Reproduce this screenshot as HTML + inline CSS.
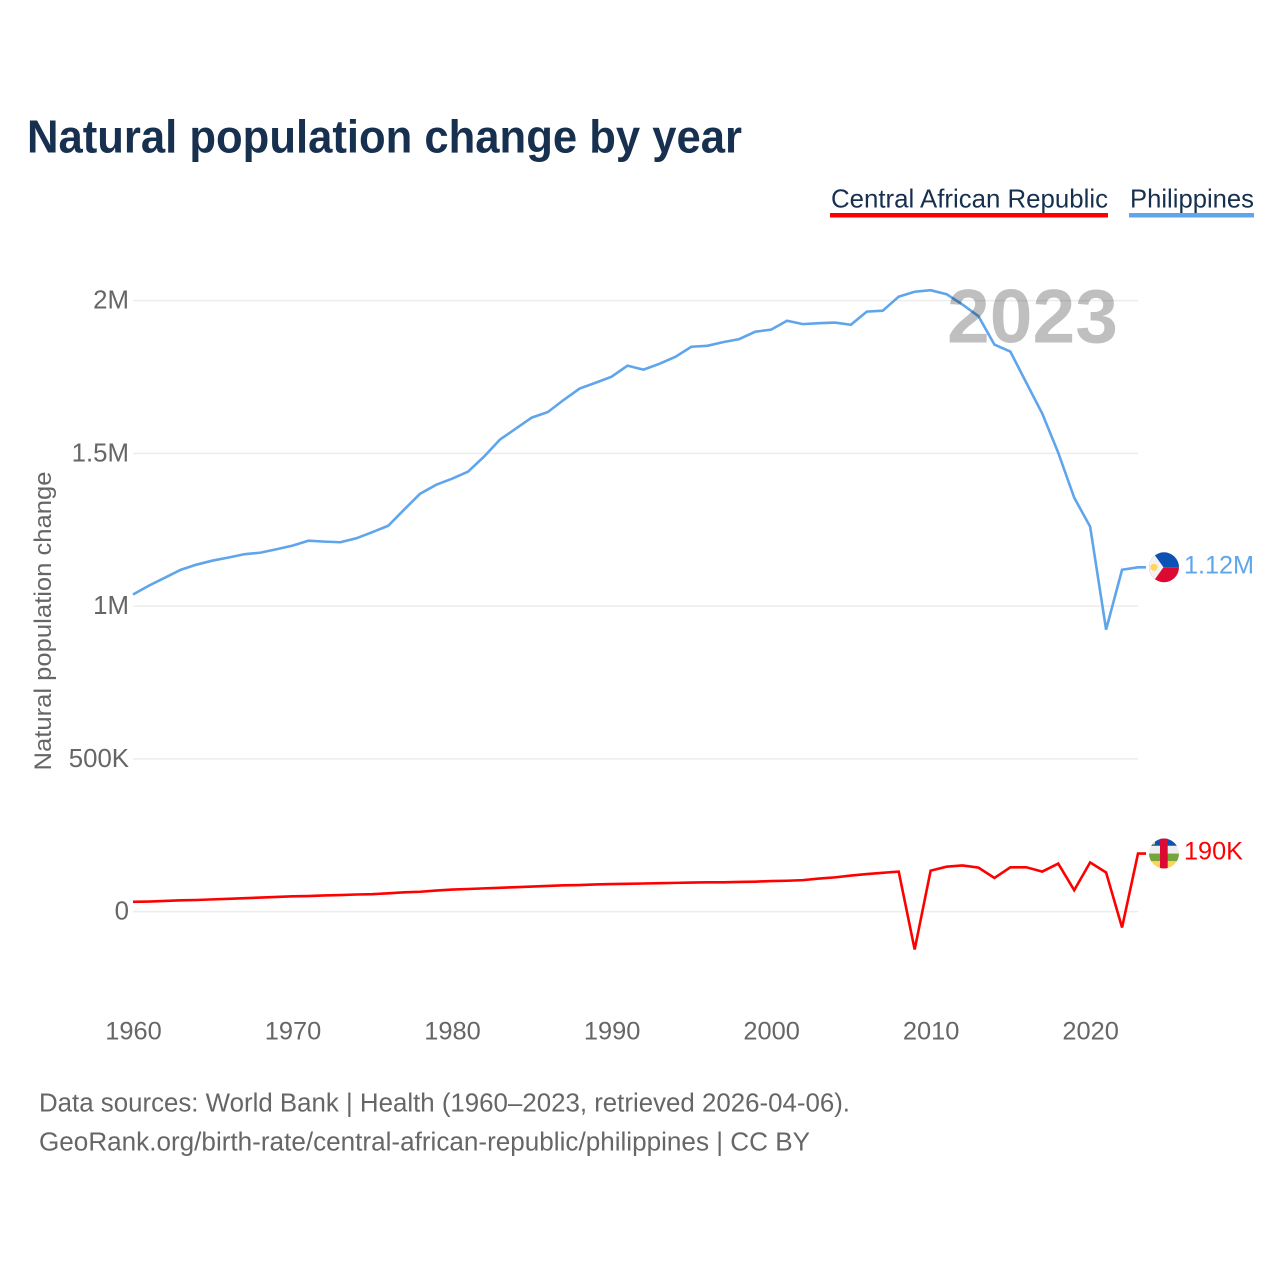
<!DOCTYPE html>
<html lang="en">
<head>
<meta charset="utf-8">
<title>Natural population change by year</title>
<style>
html,body{margin:0;padding:0;background:#fff;width:1280px;height:1280px;overflow:hidden}
svg{display:block}
text{font-family:"Liberation Sans",sans-serif}
</style>
</head>
<body>
<svg id="chart" xmlns="http://www.w3.org/2000/svg" width="1280" height="1280" viewBox="0 0 1280 1280">
  <defs>
    <clipPath id="flag-clip"><circle cx="0" cy="0" r="15"></circle></clipPath>
  </defs>
  <text x="27" y="152.5" font-size="46" font-weight="700" fill="#17304f" textLength="715" lengthAdjust="spacingAndGlyphs">Natural population change by year</text>

  <g>
    <text x="831" y="207.5" font-size="26" fill="#17304f" textLength="277" lengthAdjust="spacingAndGlyphs">Central African Republic</text>
    <rect x="830" y="213" width="278" height="4.5" fill="#ff0000"></rect>
  </g>
  <g>
    <text x="1130" y="207.5" font-size="26" fill="#17304f" textLength="124" lengthAdjust="spacingAndGlyphs">Philippines</text>
    <rect x="1129" y="213" width="125" height="4.5" fill="#5fa5ec"></rect>
  </g>

  <text transform="translate(51 621) rotate(-90)" text-anchor="middle" font-size="24.5" fill="#666" textLength="299" lengthAdjust="spacingAndGlyphs">Natural population change</text>

  <g id="grid"></g>
  <g id="y-ticks"></g>
  <g id="x-ticks"></g>
  <g id="series"></g>

  <text id="year-label" x="1118" y="342.5" text-anchor="end" font-size="76" font-weight="700" fill="#000" fill-opacity="0.25" textLength="171" lengthAdjust="spacingAndGlyphs">2023</text>

  <g id="flag-ph">
    <g clip-path="url(#flag-clip)">
      <rect x="-15" y="-16" width="30" height="16" fill="#0b52b4"></rect>
      <rect x="-15" y="0" width="30" height="16" fill="#dc0a32"></rect>
      <polygon points="-15,-16 -12,-16 -0.5,0 -12,16 -15,16" fill="#f2f2f2"></polygon>
      <circle cx="-10" cy="0" r="3.6" fill="#ffd45e"></circle>
    </g>
  </g>
  <g id="flag-car">
    <g clip-path="url(#flag-clip)">
      <rect x="-15" y="-16" width="30" height="8.3" fill="#0b52b4"></rect>
      <rect x="-15" y="-7.7" width="30" height="7.7" fill="#eeeeee"></rect>
      <rect x="-15" y="0" width="30" height="7.7" fill="#74a53c"></rect>
      <rect x="-15" y="7.7" width="30" height="8.3" fill="#ffd45e"></rect>
      <rect x="-4" y="-16" width="7.7" height="32" fill="#dc0a32"></rect>
      <circle cx="-10.5" cy="-10.5" r="1.6" fill="#ffd45e"></circle>
    </g>
  </g>
  <text id="value-ph" font-size="25" fill="#5fa5ec" textLength="70" lengthAdjust="spacingAndGlyphs">1.12M</text>
  <text id="value-car" font-size="25" fill="#ff0000" textLength="59" lengthAdjust="spacingAndGlyphs">190K</text>

  <text x="39" y="1111.5" font-size="25.5" fill="#666" textLength="811" lengthAdjust="spacingAndGlyphs">Data sources: World Bank | Health (1960–2023, retrieved 2026-04-06).</text>
  <text x="39" y="1150.5" font-size="25.5" fill="#666" textLength="771" lengthAdjust="spacingAndGlyphs">GeoRank.org/birth-rate/central-african-republic/philippines | CC BY</text>
</svg>
<script>
const firstYear = 1960;
const lastYear = 2023;
const xTickYears = [1960, 1970, 1980, 1990, 2000, 2010, 2020];
const yTickValues = [0, 500, 1000, 1500, 2000];
const yTickLabels = ['0', '500K', '1M', '1.5M', '2M'];
const philippines = [1038, 1067, 1093, 1119, 1136, 1149, 1159, 1170, 1175, 1186, 1198, 1214, 1211, 1209, 1222, 1242, 1263, 1316, 1368, 1397, 1417, 1440, 1489, 1545, 1581, 1617, 1635, 1675, 1712, 1731, 1751, 1787, 1774, 1793, 1816, 1849, 1852, 1864, 1874, 1898, 1905, 1934, 1923, 1926, 1928, 1921, 1964, 1967, 2013, 2029, 2034, 2021, 1987, 1949, 1856, 1833, 1731, 1630, 1502, 1355, 1260, 923, 1119, 1127];
const centralAfricanRepublic = [32, 33, 35, 37, 38, 40, 42, 44, 46, 48, 50, 51, 53, 54, 56, 57, 60, 63, 65, 69, 72, 74, 76, 78, 80, 82, 84, 86, 87, 89, 90, 91, 92, 93, 94, 95, 96, 96, 97, 98, 100, 101, 103, 108, 112, 118, 123, 127, 131, -124, 134, 147, 151, 144, 110, 145, 145, 131, 157, 70, 161, 128, -52, 190];

const NS = 'http://www.w3.org/2000/svg';
const plotLeft = 133, plotRight = 1138, zeroY = 911.6, pxPerThousand = 611 / 2000;
function xScale(year) { return plotLeft + (year - firstYear) * (plotRight - plotLeft) / (lastYear - firstYear); }
function yScale(value) { return zeroY - value * pxPerThousand; }
function make(tag, parent, attrs) {
  const el = document.createElementNS(NS, tag);
  for (const k in attrs) el.setAttribute(k, attrs[k]);
  parent.appendChild(el);
  return el;
}

const grid = document.getElementById('grid');
const yTicks = document.getElementById('y-ticks');
const xTicks = document.getElementById('x-ticks');
const seriesGroup = document.getElementById('series');

yTickValues.forEach(function (v, i) {
  const line = make('line', grid, {x1: plotLeft, x2: plotRight, y1: yScale(v), y2: yScale(v), stroke: '#ececec', 'stroke-width': 1.5});
  
  
  const label = make('text', yTicks, {x: 129, y: yScale(v) + 8, 'text-anchor': 'end', 'font-size': 25.8, fill: '#666'});
  
  
  label.textContent = yTickLabels[i];
});

xTickYears.forEach(function (year) {
  const label = make('text', xTicks, {x: xScale(year) + 0.5, y: 1039.5, 'text-anchor': 'middle', 'font-size': 25.4, fill: '#666'});
  
  
  label.textContent = year;
});

function linePoints(values) {
  const pts = values.map(function (v, i) { return xScale(firstYear + i) + ',' + yScale(v); });
  pts.push((plotRight + 8) + ',' + yScale(values[values.length - 1]));
  return pts.join(' ');
}

const lineCar = make('polyline', seriesGroup, {points: linePoints(centralAfricanRepublic), fill: 'none', stroke: '#ff0000', 'stroke-width': 2.6, 'stroke-linejoin': 'miter'});


const linePh = make('polyline', seriesGroup, {points: linePoints(philippines), fill: 'none', stroke: '#5fa5ec', 'stroke-width': 2.6, 'stroke-linejoin': 'miter'});



const phEnd = yScale(philippines[philippines.length - 1]);
const carEnd = yScale(centralAfricanRepublic[centralAfricanRepublic.length - 1]);
document.getElementById('flag-ph').setAttribute('transform', 'translate(1164 ' + phEnd + ')');
document.getElementById('flag-car').setAttribute('transform', 'translate(1164 ' + carEnd + ')');
const vp = document.getElementById('value-ph');
vp.setAttribute('x', 1184);
vp.setAttribute('y', phEnd + 6);
const vc = document.getElementById('value-car');
vc.setAttribute('x', 1184);
vc.setAttribute('y', carEnd + 6);
</script>
</body>
</html>
